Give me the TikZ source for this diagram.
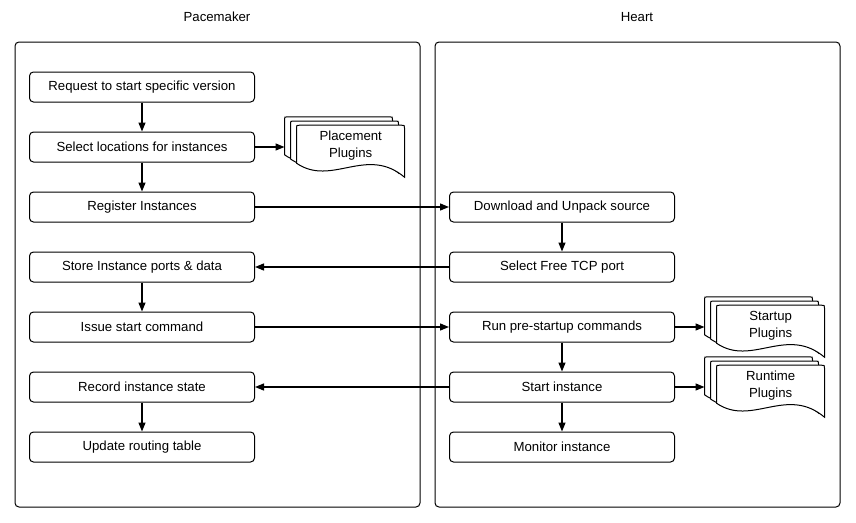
\documentclass[tikz,border=0pt]{standalone}
\usepackage{fontspec}
\setmainfont{Liberation Sans}
\usetikzlibrary{arrows.meta}
\usetikzlibrary{positioning}
\tikzset{lane/.style = {draw, rounded corners=4pt, line width=1pt}}
\tikzset{stepbox/.style = {draw, rounded corners=4pt, line width=1pt,
                           minimum width=225pt, minimum height=30pt, inner sep=0pt}}
\tikzset{stack/.style = {minimum width=120pt, minimum height=60pt, inner sep=0pt}}
\tikzset{sheet/.style = {draw, fill=white, line width=1pt}}
\tikzset{flow/.style = {-{Triangle[length=9pt, width=7pt]}, line width=1.3pt}}

% three sheets of a stack, drawn from the stack's top left corner
\newcommand{\plugsheets}[1]{
  \begin{scope}[shift={(#1.north west)}]
    \foreach \o in {0, 6, 12} {
      \draw [sheet, shift={(\o, 0.7*\o)}]
        (0, 38) -- (0, 3) .. controls (0, 0) .. (3, 0) -- (105, 0)
        .. controls (108, 0) .. (108, 3) -- (108, 52)
        .. controls (70, 20) and (35, 62) .. (0, 38) -- cycle;
    }
  \end{scope}
}

\begin{document}
\begin{tikzpicture}[x=1pt, y=-1pt, font=\fontsize{13.2}{17}\selectfont]
    \useasboundingbox (0, 0) rectangle (856, 522);

    \draw [lane] (15, 42) rectangle (420, 507);
    \draw [lane] (435, 42) rectangle (840, 507);
    \node (pm) at (217, 17) {Pacemaker};
    \node (ht) at (637, 17) {Heart};

    \node [stepbox] (req) at (142, 87) {Request to start specific version};
    \node [stepbox, below=29pt of req] (sel) {Select locations for instances};
    \node [stepbox, below=29pt of sel] (reg) {Register Instances};
    \node [stepbox, below=29pt of reg] (store) {Store Instance ports \& data};
    \node [stepbox, below=29pt of store] (issue) {Issue start command};
    \node [stepbox, below=29pt of issue] (rec) {Record instance state};
    \node [stepbox, below=29pt of rec] (upd) {Update routing table};

    \node [stepbox, right=194pt of reg] (dl) {Download and Unpack source};
    \node [stepbox, below=29pt of dl] (tcp) {Select Free TCP port};
    \node [stepbox, below=29pt of tcp] (pre) {Run pre-startup commands};
    \node [stepbox, below=29pt of pre] (start) {Start instance};
    \node [stepbox, below=29pt of start] (mon) {Monitor instance};

    \node [stack, right=29.5pt of sel] (place) {};
    \node [stack, right=29.5pt of pre] (startup) {};
    \node [stack, right=29.5pt of start] (runtime) {};
    \plugsheets{place}
    \plugsheets{startup}
    \plugsheets{runtime}
    \node [align=center, xshift=6pt, yshift=1.5pt] (placetxt) at (place.center) {Placement\\Plugins};
    \node [align=center, xshift=6pt, yshift=1.5pt] (startuptxt) at (startup.center) {Startup\\Plugins};
    \node [align=center, xshift=6pt, yshift=1.5pt] (runtimetxt) at (runtime.center) {Runtime\\Plugins};

    \draw [flow] (req) -- (sel);
    \draw [flow] (sel) -- (reg);
    \draw [flow] (store) -- (issue);
    \draw [flow] (rec) -- (upd);
    \draw [flow] (dl) -- (tcp);
    \draw [flow] (pre) -- (start);
    \draw [flow] (start) -- (mon);

    \draw [flow] (sel) -- (place);
    \draw [flow] (reg) -- (dl);
    \draw [flow] (tcp) -- (store);
    \draw [flow] (issue) -- (pre);
    \draw [flow] (start) -- (rec);
    \draw [flow] (pre) -- (startup);
    \draw [flow] (start) -- (runtime);
  \end{tikzpicture}
\end{document}
